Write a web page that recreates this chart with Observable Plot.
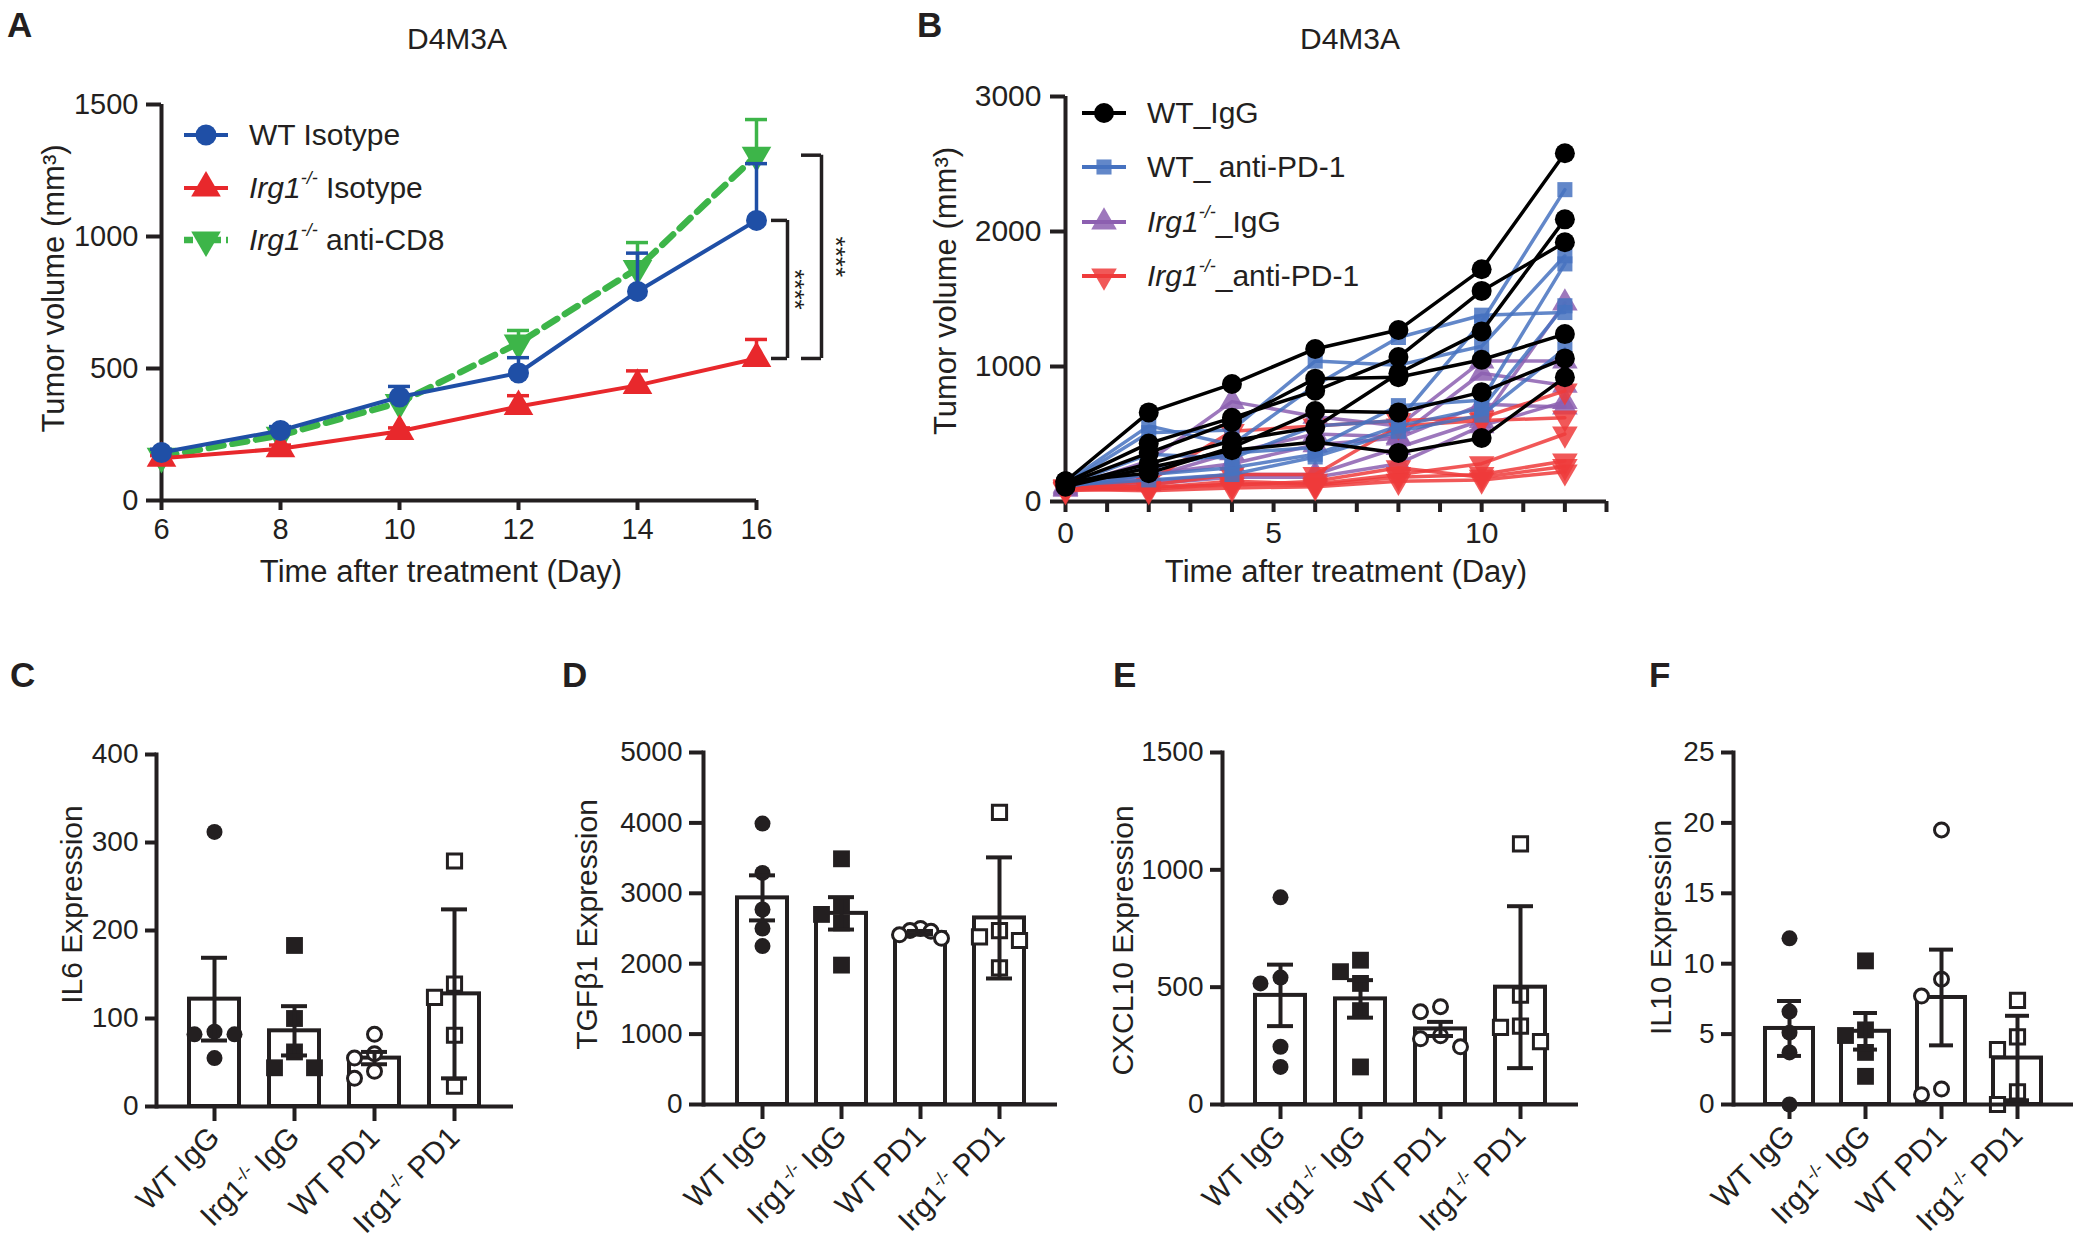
<!DOCTYPE html>
<html>
<head>
<meta charset="utf-8">
<script src="https://cdn.jsdelivr.net/npm/d3@7"></script>
<script src="https://cdn.jsdelivr.net/npm/@observablehq/plot@0.6"></script>
<style>
  html, body { margin: 0; padding: 0; background: #fff; overflow: hidden; }
  #fig { position: relative; width: 2100px; height: 1245px; background: #fff;
         font-family: "Liberation Sans", Arial, Helvetica, sans-serif; color: #231f20; overflow: hidden; }
  .abs { position: absolute; }
  .letter { font-weight: bold; font-size: 35px; line-height: 1; }
  .title { font-size: 30px; line-height: 1; transform: translateX(-50%); white-space: nowrap; }
  .lrow { position: absolute; height: 40px; display: flex; align-items: center; white-space: nowrap; line-height: 1; }
  .lrow svg { flex: none; }
  .lrow span.t { font-size: 30px; }
  sup { font-size: 0.6em; line-height: 0; position: relative; top: -0.15em; vertical-align: super; }
</style>
</head>
<body>
<div id="fig"></div>
<script>
// ---------------- DATA ----------------
// Panel A: mean tumour volume (mm3) and SEM
const daysA = [6, 8, 10, 12, 14, 16];
const wtIsoMean  = [182, 265, 392, 483, 792, 1061];
const wtIsoSem   = [12, 15, 40, 58, 145, 215];
const irgIsoMean = [160, 196, 262, 356, 436, 538];
const irgIsoSem  = [10, 14, 13, 41, 55, 72];
const irgCd8Mean = [167, 247, 371, 596, 879, 1308];
const irgCd8Sem  = [8, 8, 9, 48, 98, 135];
const ticksAy = [0, 500, 1000, 1500];
const seriesNamesA = ["WT Isotype", "Irg1-/- Isotype", "Irg1-/- anti-CD8"];

// Panel B: individual mice tumour volume (mm3)
const daysB = [0, 2, 4, 6, 8, 10, 12];
const bWtIgG = [
  [150, 660, 870, 1130, 1270, 1720, 2580],
  [140, 430, 620, 820, 1070, 1560, 1920],
  [120, 280, 450, 550, 950, 1260, 2090],
  [130, 360, 590, 910, 920, 1050, 1240],
  [150, 210, 400, 670, 660, 810, 1060],
  [110, 250, 380, 440, 360, 470, 920]
];
const bWtPd1 = [
  [130, 510, 530, 1040, 1010, 1150, 1820],
  [140, 560, 420, 860, 1215, 1380, 1400],
  [120, 350, 320, 560, 600, 1330, 2310],
  [130, 250, 360, 400, 710, 750, 1760],
  [110, 200, 250, 350, 560, 690, 1450],
  [120, 160, 200, 330, 520, 640, 1130]
];
const bIrgIgG = [
  [100, 300, 740, 630, 560, 1040, 1040],
  [90, 180, 360, 500, 480, 950, 860],
  [110, 150, 200, 200, 400, 600, 1470],
  [100, 130, 180, 180, 280, 560, 740],
  [120, 200, 280, 420, 470, 720, 700]
];
const bIrgPd1 = [
  [100, 150, 520, 560, 600, 620, 820],
  [90, 120, 200, 200, 560, 600, 620],
  [80, 100, 150, 130, 200, 280, 500],
  [100, 90, 130, 120, 180, 200, 300],
  [110, 110, 120, 150, 250, 180, 260],
  [90, 80, 100, 110, 150, 160, 220]
];
const ticksBy = [0, 1000, 2000, 3000];

// Panels C-F: groups, individual values, bar height, error
const groups = ["WT IgG", "Irg1-/- IgG", "WT PD1", "Irg1-/- PD1"];

const il6WtIgG  = [312, 85, 82, 82, 55];
const il6IrgIgG = [183, 100, 62, 44, 44];
const il6WtPd1  = [82, 60, 55, 40, 32];
const il6IrgPd1 = [279, 139, 124, 81, 23];
const il6Mean = [122, 86, 55, 128];
const il6Err  = [47, 28, 7, 96];
const il6Ticks = [0, 100, 200, 300, 400];

const tgfWtIgG  = [3990, 3290, 2770, 2500, 2250];
const tgfIrgIgG = [3490, 2830, 2700, 2580, 1980];
const tgfWtPd1  = [2500, 2470, 2460, 2410, 2360];
const tgfIrgPd1 = [4150, 2470, 2380, 2330, 1940];
const tgfMean = [2935, 2715, 2440, 2650];
const tgfErr  = [320, 230, 25, 860];
const tgfTicks = [0, 1000, 2000, 3000, 4000, 5000];

const cxWtIgG  = [883, 541, 516, 246, 160];
const cxIrgIgG = [615, 566, 516, 400, 160];
const cxWtPd1  = [417, 395, 293, 280, 246];
const cxIrgPd1 = [1111, 466, 334, 329, 268];
const cxMean = [465, 450, 322, 500];
const cxErr  = [131, 80, 30, 345];
const cxTicks = [0, 500, 1000, 1500];

const il10WtIgG  = [11.8, 6.6, 5.1, 3.7, 0];
const il10IrgIgG = [10.2, 5.3, 4.9, 3.7, 2.0];
const il10WtPd1  = [19.5, 8.9, 7.7, 1.1, 0.7];
const il10IrgPd1 = [7.4, 4.8, 3.9, 0.9, 0];
const il10Mean = [5.4, 5.2, 7.6, 3.3];
const il10Err  = [1.95, 1.3, 3.4, 3.0];
const il10Ticks = [0, 5, 10, 15, 20, 25];

// ---------------- STYLE ----------------
const FONT = '"Liberation Sans", Arial, Helvetica, sans-serif';
const INK = "#231f20";
const fig = document.getElementById("fig");

const triUp = d3.symbolTriangle;
const triDown = {
  draw(ctx, size) {
    const y = -Math.sqrt(size / (Math.sqrt(3) * 3));
    ctx.moveTo(0, -y * 2);
    ctx.lineTo(-Math.sqrt(3) * y, y);
    ctx.lineTo(Math.sqrt(3) * y, y);
    ctx.closePath();
  }
};
const symPath = (type, r) => d3.symbol(type, Math.PI * r * r)();

function place(node, left, top) {
  const d = document.createElement("div");
  d.className = "abs";
  d.style.left = left + "px";
  d.style.top = top + "px";
  d.appendChild(node);
  fig.appendChild(d);
  return d;
}
function html(cls, text, left, top, extra) {
  const d = document.createElement("div");
  d.className = "abs " + cls;
  d.style.left = left + "px";
  d.style.top = top + "px";
  if (extra) Object.assign(d.style, extra);
  d.innerHTML = text;
  fig.appendChild(d);
  return d;
}
const fmtName = s => s.replace(/^Irg1-\/-/, "<i>Irg1<sup>-/-</sup></i>");
const yTitle = (label, dx, dy, fs) => Plot.text([label], {frameAnchor: "left", dx, dy, rotate: -90, fontSize: fs, fill: INK, textAnchor: "middle", lineAnchor: "middle"});
const xTitle = (label, dx, dy, fs) => Plot.text([label], {frameAnchor: "bottom", dx, dy, fontSize: fs, fill: INK, textAnchor: "middle", lineAnchor: "middle"});

// ---------------- PANEL A ----------------
const seriesA = [
  {name: seriesNamesA[2], mean: irgCd8Mean, sem: irgCd8Sem, color: "#3db549", sym: triDown, r: 11, sw: 6.5, dash: "15,9"},
  {name: seriesNamesA[1], mean: irgIsoMean, sem: irgIsoSem, color: "#e8282c", sym: triUp, r: 11, sw: 4, dash: null},
  {name: seriesNamesA[0], mean: wtIsoMean, sem: wtIsoSem, color: "#1f4fa6", sym: d3.symbolCircle, r: 10.5, sw: 4, dash: null}
];
const marksA = [
  Plot.axisY({ticks: ticksAy, tickFormat: d => String(d), tickSize: 15, tickPadding: 8, fontSize: 29, strokeWidth: 4, label: null}),
  Plot.axisX({ticks: daysA, tickFormat: d => String(d), tickSize: 10, tickPadding: 8, fontSize: 29, strokeWidth: 4, label: null}),
  Plot.ruleY([0], {strokeWidth: 4, stroke: INK}),
  Plot.ruleX([6], {strokeWidth: 4, stroke: INK})
];
for (const s of seriesA) {
  const rows = daysA.map((d, i) => ({day: d, v: s.mean[i], e: s.sem[i]}));
  marksA.push(
    Plot.ruleX(rows, {x: "day", y1: "v", y2: d => d.v + d.e, stroke: s.color, strokeWidth: 3.5}),
    Plot.ruleY(rows, {x1: "day", x2: "day", y: d => d.v + d.e, stroke: s.color, strokeWidth: 3.5, insetLeft: -11, insetRight: -11}),
    Plot.line(rows, {x: "day", y: "v", stroke: s.color, strokeWidth: s.sw, strokeDasharray: s.dash}),
    Plot.dot(rows, {x: "day", y: "v", symbol: s.sym, r: s.r, fill: s.color, stroke: "none"})
  );
}
// significance brackets at last day
const lastDay = daysA[daysA.length - 1];
const wtLast = wtIsoMean[wtIsoMean.length - 1];
const irgLast = irgIsoMean[irgIsoMean.length - 1];
const cd8Last = irgCd8Mean[irgCd8Mean.length - 1];
marksA.push(
  Plot.ruleX([lastDay], {y1: wtLast, y2: irgLast, dx: 31, stroke: INK, strokeWidth: 3.5}),
  Plot.ruleY([wtLast, irgLast], {x1: lastDay, x2: lastDay, dx: 23, insetLeft: -8, insetRight: -8, stroke: INK, strokeWidth: 3.5}),
  Plot.ruleX([lastDay], {y1: cd8Last, y2: irgLast, dx: 65, stroke: INK, strokeWidth: 3.5}),
  Plot.ruleY([cd8Last, irgLast], {x1: lastDay, x2: lastDay, dx: 55, insetLeft: -10, insetRight: -10, stroke: INK, strokeWidth: 3.5}),
  Plot.text(["****"], {x: lastDay, y: (wtLast + irgLast) / 2, dx: 38, rotate: 90, fontSize: 26, fill: INK}),
  Plot.text(["****"], {x: lastDay, y: (cd8Last + irgLast) / 2, dx: 79, rotate: 90, fontSize: 26, fill: INK}),
  yTitle("Tumor volume (mm³)", -107, -14, 31),
  xTitle("Time after treatment (Day)", -18, 72, 31)
);
const plotA = Plot.plot({
  width: 900, height: 540, marginLeft: 161, marginRight: 144, marginTop: 44, marginBottom: 100,
  x: {domain: [6, 16], axis: null},
  y: {domain: [0, 1500], axis: null},
  style: {fontFamily: FONT, color: INK, background: "transparent", overflow: "visible"},
  marks: marksA
});
place(plotA, 0, 60);

// ---------------- PANEL B ----------------
const groupsB = [
  {name: "Irg1-/-_IgG", data: bIrgIgG, color: "#8c5fb0", sym: triUp, r: 9.5},
  {name: "Irg1-/-_anti-PD-1", data: bIrgPd1, color: "#ef3b3b", sym: triDown, r: 9.5},
  {name: "WT_ anti-PD-1", data: bWtPd1, color: "#4672c0", sym: d3.symbolSquare, r: 8.5},
  {name: "WT_IgG", data: bWtIgG, color: "#000000", sym: d3.symbolCircle, r: 10}
];
const marksB = [
  Plot.axisY({ticks: ticksBy, tickFormat: d => String(d), tickSize: 15, tickPadding: 9, fontSize: 30, strokeWidth: 4, label: null}),
  Plot.axisX({ticks: d3.range(0, 14), tickFormat: d => d % 5 === 0 ? String(d) : "", tickSize: 11, tickPadding: 9, fontSize: 30, strokeWidth: 4, label: null}),
  Plot.ruleY([0], {strokeWidth: 4, stroke: INK}),
  Plot.ruleX([0], {strokeWidth: 4, stroke: INK})
];
for (const g of groupsB) {
  const rows = [];
  g.data.forEach((arr, k) => arr.forEach((v, i) => rows.push({id: k, day: daysB[i], v})));
  const colored = g.color !== "#000000";
  marksB.push(
    Plot.line(rows, {x: "day", y: "v", z: "id", stroke: g.color, strokeWidth: 3.5, strokeOpacity: colored ? 0.85 : 1}),
    Plot.dot(rows, {x: "day", y: "v", symbol: g.sym, r: g.r, fill: g.color, fillOpacity: colored ? 0.85 : 1, stroke: "none"})
  );
}
marksB.push(
  yTitle("Tumor volume (mm³)", -119, -8, 31),
  xTitle("Time after treatment (Day)", 10, 71, 31)
);
const plotB = Plot.plot({
  width: 740, height: 540, marginLeft: 165, marginRight: 34, marginTop: 36, marginBottom: 99,
  x: {domain: [0, 13], axis: null},
  y: {domain: [0, 3000], axis: null},
  style: {fontFamily: FONT, color: INK, background: "transparent", overflow: "visible"},
  marks: marksB
});
place(plotB, 900, 60);

// ---------------- PANELS C-F ----------------
const groupStyle = [
  {sym: d3.symbolCircle, r: 8, fill: INK, stroke: "none", sw: 0},
  {sym: d3.symbolSquare, r: 9.5, fill: INK, stroke: "none", sw: 0},
  {sym: d3.symbolCircle, r: 7, fill: "white", stroke: INK, sw: 3},
  {sym: d3.symbolSquare, r: 8, fill: "white", stroke: INK, sw: 3}
];
const PLOT_H = 352;

function columns(vals, pxPer, thr) {
  const order = d3.range(vals.length).sort((a, b) => vals[b] - vals[a]);
  const placed = [];
  const col = new Array(vals.length).fill(0);
  for (const i of order) {
    const y = vals[i] * pxPer;
    for (const c of [0, -1, 1, -2, 2, -3, 3]) {
      if (!placed.some(p => p.c === c && Math.abs(p.y - y) < thr)) { col[i] = c; placed.push({c, y}); break; }
    }
  }
  return col;
}

function barPanel(cfg) {
  const ymax = cfg.ticks[cfg.ticks.length - 1];
  const pxPer = PLOT_H / ymax;
  const stats = groups.map((g, i) => ({g, m: cfg.means[i], e: cfg.errs[i]}));
  const marks = [
    Plot.barY(stats, {x: "g", y: "m", fill: "white", stroke: INK, strokeWidth: 4}),
  ];
  cfg.values.forEach((vals, gi) => {
    const cols = columns(vals, pxPer, 17);
    const step = d3.max(cols, c => Math.abs(c)) >= 2 ? 10.5 : 20;
    const st = groupStyle[gi];
    const rows = vals.map((v, i) => ({g: groups[gi], v, c: cols[i]}));
    for (const c of Array.from(new Set(cols))) {
      marks.push(Plot.dot(rows.filter(d => d.c === c), {
        x: "g", y: "v", dx: c * step, symbol: st.sym, r: st.r,
        fill: st.fill, stroke: st.stroke, strokeWidth: st.sw
      }));
    }
  });
  marks.push(
    Plot.ruleX(stats, {x: "g", y1: d => Math.max(0, d.m - d.e), y2: d => d.m + d.e, stroke: INK, strokeWidth: 4}),
    Plot.tickY(stats, {x: "g", y: d => d.m + d.e, stroke: INK, strokeWidth: 4, insetLeft: 12, insetRight: 12}),
    Plot.tickY(stats, {x: "g", y: d => Math.max(0, d.m - d.e), stroke: INK, strokeWidth: 4, insetLeft: 12, insetRight: 12}),
    Plot.ruleY([0], {stroke: INK, strokeWidth: 4}),
    Plot.frame({anchor: "left", stroke: INK, strokeWidth: 4}),
    Plot.axisY({ticks: cfg.ticks, tickFormat: d => String(d), tickSize: cfg.tickSize, tickPadding: 7, fontSize: 28, strokeWidth: 4, label: null}),
    Plot.axisX({tickSize: 15, tickRotate: -45, tickPadding: 11, fontSize: 30, strokeWidth: 4, label: null}),
    yTitle(cfg.label, cfg.titleDx, cfg.titleDy, 30)
  );
  const svg = Plot.plot({
    width: cfg.width, height: 545, marginLeft: cfg.marginLeft, marginRight: cfg.marginRight,
    marginTop: cfg.marginTop, marginBottom: 545 - cfg.marginTop - PLOT_H,
    x: {domain: groups, paddingInner: 0.37, paddingOuter: 0.4, axis: null},
    y: {domain: [0, ymax], axis: null},
    style: {fontFamily: FONT, color: INK, background: "transparent", overflow: "visible"},
    marks
  });
  // superscript "-/-" in tick labels
  d3.select(svg).selectAll('g[aria-label="x-axis tick label"] text').each(function () {
    const t = d3.select(this);
    const s = t.text();
    const m = s.match(/^Irg1-\/-(.*)$/);
    if (m) {
      t.text(null);
      t.append("tspan").text("Irg1");
      t.append("tspan").attr("dy", "-11").attr("font-size", "18").text("-/-");
      t.append("tspan").attr("dy", "11").text(m[1]);
    }
  });
  place(svg, cfg.left, 700);
}

barPanel({left: 0, width: 540, marginLeft: 156, marginRight: 27, marginTop: 54,
  values: [il6WtIgG, il6IrgIgG, il6WtPd1, il6IrgPd1], means: il6Mean, errs: il6Err, ticks: il6Ticks,
  label: "IL6 Expression", titleDx: -84, titleDy: -26, tickSize: 11});
barPanel({left: 540, width: 540, marginLeft: 163, marginRight: 23, marginTop: 52,
  values: [tgfWtIgG, tgfIrgIgG, tgfWtPd1, tgfIrgPd1], means: tgfMean, errs: tgfErr, ticks: tgfTicks,
  label: "TGFβ1 Expression", titleDx: -116, titleDy: -4, tickSize: 14});
barPanel({left: 1060, width: 540, marginLeft: 162, marginRight: 22, marginTop: 52,
  values: [cxWtIgG, cxIrgIgG, cxWtPd1, cxIrgPd1], means: cxMean, errs: cxErr, ticks: cxTicks,
  label: "CXCL10 Expression", titleDx: -99, titleDy: 12, tickSize: 12});
barPanel({left: 1580, width: 520, marginLeft: 153, marginRight: 27, marginTop: 52,
  values: [il10WtIgG, il10IrgIgG, il10WtPd1, il10IrgPd1], means: il10Mean, errs: il10Err, ticks: il10Ticks,
  label: "IL10 Expression", titleDx: -72, titleDy: -1, tickSize: 12});

// ---------------- TEXT OVERLAYS ----------------
html("letter", "A", 7, 7);
html("letter", "B", 917, 7);
html("letter", "C", 10, 657);
html("letter", "D", 562, 657);
html("letter", "E", 1113, 657);
html("letter", "F", 1649, 657);
html("title", "D4M3A", 457, 24);
html("title", "D4M3A", 1350, 24);

function legendRow(left, cy, color, type, r, text, dash, lw, fillOpacity) {
  const row = document.createElement("div");
  row.className = "lrow";
  row.style.left = left + "px";
  row.style.top = (cy - 20) + "px";
  const w = 44;
  const svgNS = "http://www.w3.org/2000/svg";
  const s = document.createElementNS(svgNS, "svg");
  s.setAttribute("width", w); s.setAttribute("height", 40);
  const ln = document.createElementNS(svgNS, "line");
  ln.setAttribute("x1", 0); ln.setAttribute("x2", w); ln.setAttribute("y1", 20); ln.setAttribute("y2", 20);
  ln.setAttribute("stroke", color); ln.setAttribute("stroke-width", lw);
  if (dash) ln.setAttribute("stroke-dasharray", dash);
  s.appendChild(ln);
  const p = document.createElementNS(svgNS, "path");
  p.setAttribute("d", symPath(type, r));
  p.setAttribute("transform", `translate(${w / 2},20)`);
  p.setAttribute("fill", color);
  if (fillOpacity) p.setAttribute("fill-opacity", fillOpacity);
  s.appendChild(p);
  row.appendChild(s);
  const t = document.createElement("span");
  t.className = "t";
  t.style.marginLeft = "21px";
  t.innerHTML = fmtName(text);
  row.appendChild(t);
  fig.appendChild(row);
}
// Panel A legend
legendRow(184, 135, "#1f4fa6", d3.symbolCircle, 10.5, "WT Isotype", null, 4);
legendRow(184, 188, "#e8282c", triUp, 11, "Irg1-/- Isotype", null, 4);
legendRow(184, 240, "#3db549", triDown, 11, "Irg1-/- anti-CD8", "9,5", 6.5);
// Panel B legend
legendRow(1082, 113, "#000000", d3.symbolCircle, 10, "WT_IgG", null, 4);
legendRow(1082, 167, "#4672c0", d3.symbolSquare, 8.5, "WT_ anti-PD-1", null, 4, 0.85);
legendRow(1082, 222, "#8c5fb0", triUp, 9.5, "Irg1-/-_IgG", null, 4, 0.85);
legendRow(1082, 276, "#ef3b3b", triDown, 9.5, "Irg1-/-_anti-PD-1", null, 4, 0.85);
</script>
</body>
</html>
